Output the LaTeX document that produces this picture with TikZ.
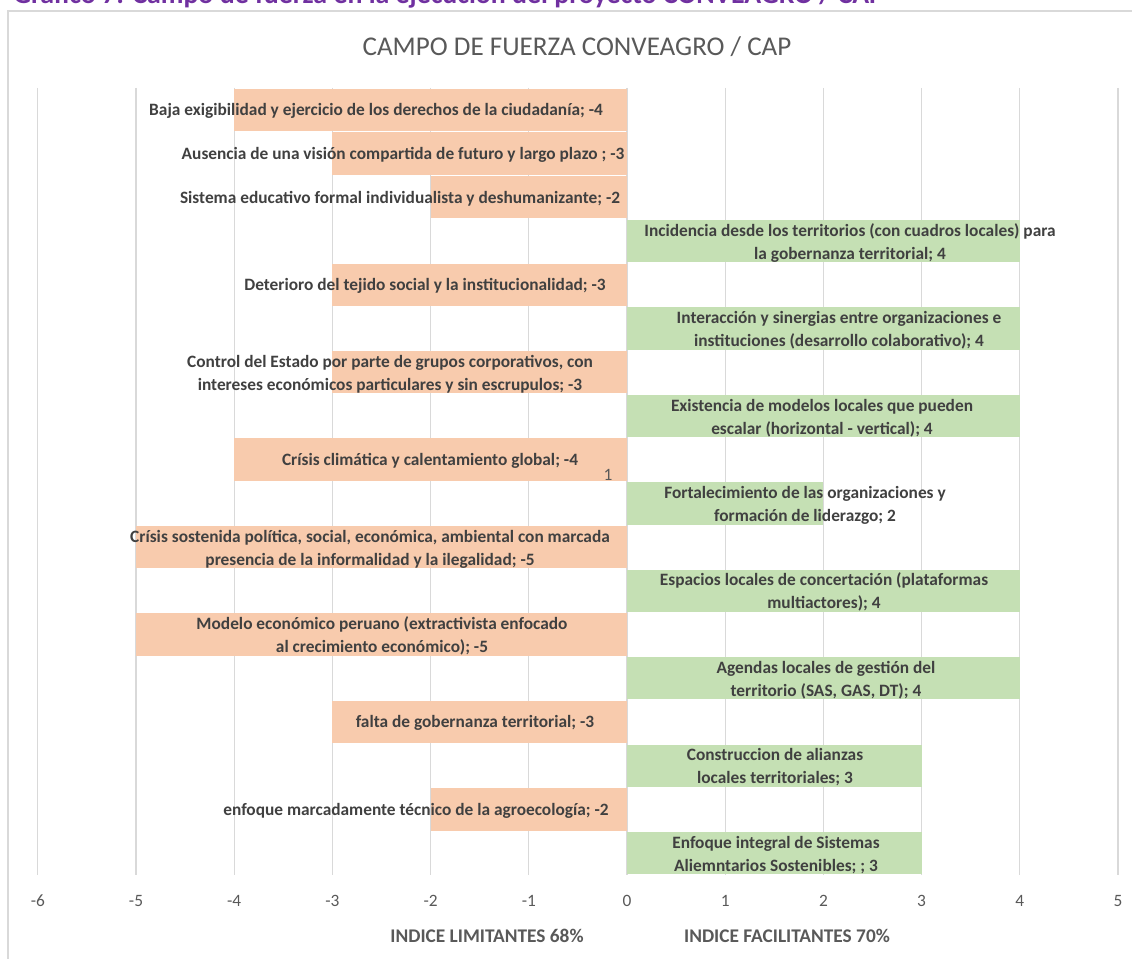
\documentclass[tikz,border=0pt]{standalone}
\usepackage{fontspec}
\setmainfont{Carlito}
\definecolor{lblc}{HTML}{404040}
\definecolor{axc}{HTML}{595959}
\definecolor{gridc}{HTML}{D9D9D9}
\definecolor{orgc}{HTML}{F8CBAD}
\definecolor{grnc}{HTML}{C5E0B4}
\definecolor{purpc}{HTML}{7030A0}
\newcommand{\mkbar}[3]{\fill[#3] (627,{88+43.72*(#1-1)+0.7}) rectangle ({627+98.2*(#2)},{88+43.72*(#1)-0.7});}
\begin{document}
\begin{tikzpicture}[x=0.75pt,y=-0.75pt,
  lbl/.style={inner sep=0pt,align=center,text=lblc,font=\bfseries\fontsize{13}{17.25}\selectfont},
  tick/.style={inner sep=0pt,text=axc,font=\fontsize{13}{15}\selectfont},
  axtitle/.style={inner sep=0pt,text=axc,font=\bfseries\fontsize{14.5}{17}\selectfont},
  gridline/.style={draw=gridc,line width=1pt},
  negbar/.style={fill=orgc},
  posbar/.style={fill=grnc}]
\useasboundingbox (0,0) rectangle (1132,959);
\clip (0,0) rectangle (1132,959);
% caption (cut off at top, as in the reference)
\node[anchor=base west,inner sep=0pt,text=purpc,font=\bfseries\fontsize{20.9}{22}\selectfont] (cap) at (13,4) {Gráfico 7: Campo de fuerza en la ejecución del proyecto CONVEAGRO / CAP};
% chart frame
\draw[gridc,line width=1pt] (8,11) rectangle (1145,975);
% title
\node[inner sep=0pt,text=axc,font=\fontsize{20.3}{24}\selectfont] (title) at (577,47) {CAMPO DE FUERZA CONVEAGRO / CAP};
% gridlines and ticks
\foreach \k in {-6,...,5}{
  \draw[gridline] ({627+98.2*\k},88) -- ({627+98.2*\k},875);
  \node[tick] (t\k) at ({627+98.2*\k},901) {\k};
}
% bars
\mkbar{1}{-4}{negbar}
\mkbar{2}{-3}{negbar}
\mkbar{3}{-2}{negbar}
\mkbar{4}{4}{posbar}
\mkbar{5}{-3}{negbar}
\mkbar{6}{4}{posbar}
\mkbar{7}{-3}{negbar}
\mkbar{8}{4}{posbar}
\mkbar{9}{-4}{negbar}
\mkbar{10}{2}{posbar}
\mkbar{11}{-5}{negbar}
\mkbar{12}{4}{posbar}
\mkbar{13}{-5}{negbar}
\mkbar{14}{4}{posbar}
\mkbar{15}{-3}{negbar}
\mkbar{16}{3}{posbar}
\mkbar{17}{-2}{negbar}
\mkbar{18}{3}{posbar}
% labels
\node[lbl] (l1) at (376,111) {Baja exigibilidad y ejercicio de los derechos de la ciudadanía; -4};
\node[lbl] (l2) at (403,155) {Ausencia de una visión compartida de futuro y largo plazo ; -3};
\node[lbl] (l3) at (400,199) {Sistema educativo formal individualista y deshumanizante; -2};
\node[lbl] (l4) at (850,243) {Incidencia desde los territorios (con cuadros locales) para\\la gobernanza territorial; 4};
\node[lbl] (l5) at (425,286) {Deterioro del tejido social y la institucionalidad; -3};
\node[lbl] (l6) at (839,330) {Interacción y sinergias entre organizaciones e\\instituciones (desarrollo colaborativo); 4};
\node[lbl] (l7) at (390,374) {Control del Estado por parte de grupos corporativos, con\\intereses económicos particulares y sin escrupulos; -3};
\node[lbl] (l8) at (822,418) {Existencia de modelos locales que pueden\\escalar (horizontal - vertical); 4};
\node[lbl] (l9) at (430,461) {Crísis climática y calentamiento global; -4};
\node[lbl] (l10) at (805,505) {Fortalecimiento de las organizaciones y\\formación de liderazgo; 2};
\node[lbl] (l11) at (370,549) {Crísis sostenida política, social, económica, ambiental con marcada\\presencia de la informalidad y la ilegalidad; -5};
\node[lbl] (l12) at (824,592) {Espacios locales de concertación (plataformas\\multiactores); 4};
\node[lbl] (l13) at (382,636) {Modelo económico peruano (extractivista enfocado\\al crecimiento económico); -5};
\node[lbl] (l14) at (826,680) {Agendas locales de gestión del\\territorio (SAS, GAS, DT); 4};
\node[lbl] (l15) at (475,723) {falta de gobernanza territorial; -3};
\node[lbl] (l16) at (775,767) {Construccion de alianzas\\locales territoriales; 3};
\node[lbl] (l17) at (416,811) {enfoque marcadamente técnico de la agroecología; -2};
\node[lbl] (l18) at (776,855) {Enfoque integral de Sistemas\\Aliemntarios Sostenibles; ; 3};
\node[tick] (one) at (608,475) {1};
% axis titles
\node[axtitle] (axl) at (487,936) {INDICE LIMITANTES 68\%};
\node[axtitle] (axr) at (787,936) {INDICE FACILITANTES 70\%};
\end{tikzpicture}
\end{document}
